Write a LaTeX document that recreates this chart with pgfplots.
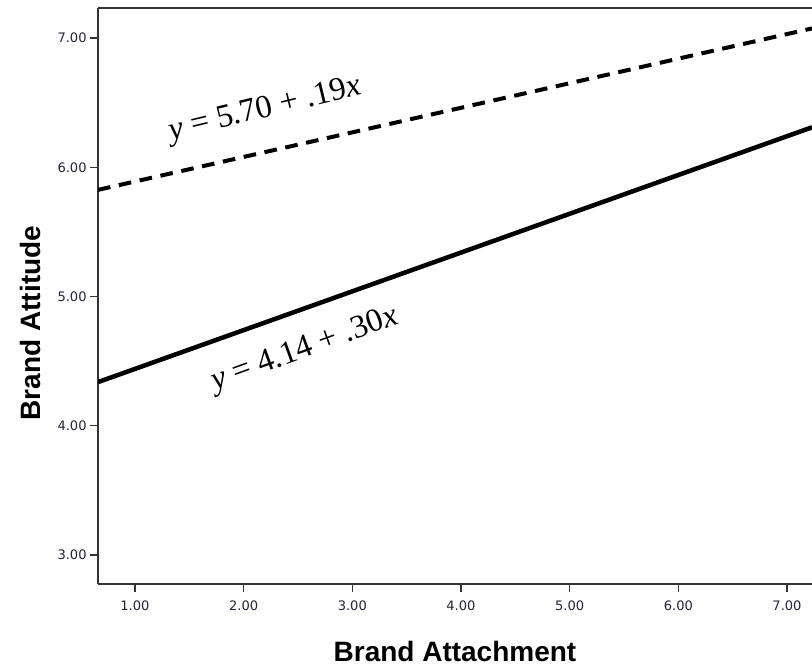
\documentclass[border=0pt]{standalone}
\usepackage{fontspec}
\setmainfont{Liberation Serif}
\setsansfont{Liberation Sans}
\newfontfamily\tickfont{DejaVu Sans}
\usepackage{pgfplots}
\pgfplotsset{compat=1.18}
\definecolor{tickc}{HTML}{23233A}
\begin{document}
\begin{tikzpicture}
\begin{axis}[
  at={(0,0)}, anchor=south west,
  scale only axis, width=535.5pt, height=432pt,
  xmin=0.66, xmax=7.23, ymin=2.776, ymax=7.232,
  axis x line*=bottom, axis y line*=left,
  axis line style={draw=black!80, line width=1pt, -},
  xtick={1,2,3,4,5,6,7}, ytick={3,4,5,6,7},
  tick align=outside, major tick length=6pt,
  tick style={draw=black!80, line width=1pt},
  /pgf/number format/.cd, fixed, fixed zerofill, precision=2, assume math mode=true,
  /pgfplots/.cd,
  ticklabel style={font=\tickfont\fontsize{9.8}{12}\selectfont, text=tickc},
  xticklabel style={yshift=-3pt},
  yticklabel style={xshift=1pt},
  xlabel={Brand Attachment}, ylabel={Brand Attitude},
  label style={font=\sffamily\bfseries\fontsize{21}{24}\selectfont},
  xlabel style={at={(rel axis cs:0.5,-0.118)}, anchor=center},
  ylabel style={at={(rel axis cs:-0.0952,0.453)}, anchor=center},
  clip=true,
]
\addplot[black, line width=3pt, dash pattern=on 9.5pt off 6.5pt] coordinates {(0.66,5.825) (7.23,7.074)};
\addplot[black, line width=3.4pt] coordinates {(0.66,4.338) (7.23,6.309)};
\node[rotate=13.5, font=\fontsize{24.5}{28}\selectfont] at (axis cs:2.196,6.443) {\textit{y} = 5.70 + .19\textit{x}};
\node[rotate=20, font=\fontsize{24.5}{28}\selectfont] at (axis cs:2.564,4.586) {\textit{y} = 4.14 + .30\textit{x}};
\draw[draw=black!80, line width=1pt] (rel axis cs:0,1) -- (rel axis cs:1,1);
\end{axis}
\pgfresetboundingbox
\path (-73.5pt,-63.75pt) rectangle (535.5pt,438pt);
\end{tikzpicture}
\end{document}
